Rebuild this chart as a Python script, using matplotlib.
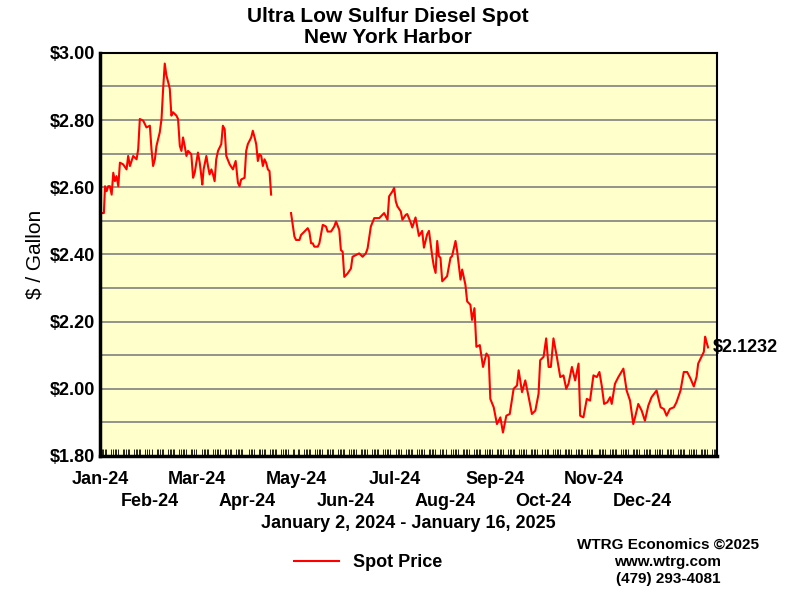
import numpy as np
import matplotlib
matplotlib.use('Agg')
import matplotlib.pyplot as plt

plt.rcParams['font.family'] = 'Liberation Sans'

# days since Jan 2, 2024 / spot price ($/gal)
days_a = [0, 1.4, 2.1, 3.1, 4.1, 5.1, 6.2, 7.2, 8.2, 9.2, 10.3, 11.3, 13.3, 15.4, 16.4, 17.5, 19.5,
          21.6, 22.6, 23.6, 25.7, 27.7, 29.8, 30.8, 31.8, 32.9, 33.9, 34.9, 35.9, 37.0, 38.0, 39.0,
          40.0, 41.1, 42.1, 43.1, 44.1, 46.2, 47.2, 48.3, 49.3, 50.3, 51.3, 52.4, 53.4, 55.4, 56.5,
          57.5, 58.5, 59.5, 60.6, 61.6, 62.2, 63.0, 64.7, 65.7, 66.7, 67.8, 68.8, 69.8, 70.8, 71.9,
          73.9, 74.9, 76.0, 77.0, 79.1, 81.1, 82.8, 84.2, 85.2, 86.2, 88.3, 89.3, 90.3, 92.4, 93.4,
          94.5, 95.5, 96.5, 97.5, 98.6, 99.6, 100.6, 101.6, 102.7, 103.7, 104.7]
price_a = [2.523, 2.523, 2.603, 2.588, 2.603, 2.603, 2.578, 2.643, 2.618, 2.633, 2.603, 2.673,
           2.668, 2.653, 2.693, 2.663, 2.693, 2.683, 2.713, 2.803, 2.798, 2.778, 2.783, 2.713,
           2.663, 2.683, 2.723, 2.743, 2.763, 2.803, 2.893, 2.968, 2.933, 2.913, 2.893, 2.813,
           2.823, 2.813, 2.803, 2.723, 2.708, 2.748, 2.723, 2.693, 2.708, 2.698, 2.628, 2.643,
           2.673, 2.703, 2.673, 2.633, 2.608, 2.653, 2.693, 2.663, 2.638, 2.653, 2.638, 2.618,
           2.683, 2.708, 2.728, 2.783, 2.773, 2.693, 2.668, 2.653, 2.678, 2.613, 2.603, 2.623,
           2.628, 2.708, 2.728, 2.748, 2.768, 2.748, 2.728, 2.678, 2.698, 2.693, 2.663, 2.683,
           2.673, 2.653, 2.648, 2.578]
days_b = [117.0, 119.1, 120.1, 122.2, 123.2, 125.3, 127.3, 128.3, 129.4, 130.4, 131.4, 133.5,
          134.5, 136.6, 138.6, 139.6, 141.7, 143.7, 144.8, 146.8, 147.8, 148.9, 149.9, 151.9,
          154.0, 155.0, 157.1, 159.1, 161.2, 163.2, 164.3, 166.3, 168.4, 171.5, 174.5, 176.6,
          177.6, 179.7, 180.7, 181.7, 182.7, 184.8, 185.8, 187.9,
          188.8, 190.9, 191.9, 193.9, 196.0, 198.0, 199.1, 201.1, 202.2, 204.2, 205.2, 206.3,
          207.3, 208.3, 209.3, 210.4, 212.4, 213.4, 215.5, 216.5, 218.6, 219.6, 221.7, 222.7,
          224.7, 225.8, 227.8, 228.8, 230.3, 231.5, 233.6, 235.6, 237.7, 239.1, 240.1, 242.2,
          244.2, 246.3, 247.9, 250.0, 252.1, 254.5, 256.6, 257.6, 259.7, 261.7, 263.8, 265.8,
          267.9, 269.9, 270.9, 273.0, 274.6, 276.1, 277.5, 279.1, 281.2, 283.3, 285.3, 287.0,
          288.4, 290.5, 292.5, 294.6, 295.6, 297.6, 299.7, 301.7, 303.8, 305.9, 307.5, 308.9,
          310.4, 312.4, 314.1, 315.1, 317.1, 319.2, 322.3, 324.3, 326.4, 328.4, 329.5, 331.5,
          333.6, 335.6, 337.7, 339.7, 342.8, 345.3, 347.3, 349.0, 351.0, 353.5, 355.1, 357.6,
          359.6, 361.7, 363.8, 365.8, 367.5, 368.5, 370.5, 372.0, 372.8, 373.6, 374.6]
price_b = [2.523, 2.453, 2.443, 2.443, 2.458, 2.468, 2.478, 2.468, 2.433, 2.433, 2.423, 2.423,
           2.433, 2.488, 2.483, 2.468, 2.468, 2.483, 2.498, 2.473, 2.413, 2.408, 2.333, 2.343,
           2.358, 2.393, 2.398, 2.403, 2.393, 2.403, 2.418, 2.483, 2.508, 2.508, 2.523, 2.503,
           2.573, 2.588, 2.598, 2.558, 2.543, 2.528, 2.503, 2.518,
           2.520, 2.495, 2.480, 2.510, 2.455, 2.470, 2.420, 2.460, 2.470, 2.395, 2.365, 2.345,
           2.440, 2.395, 2.390, 2.320, 2.330, 2.335, 2.390, 2.395, 2.440, 2.410, 2.325, 2.355,
           2.310, 2.260, 2.250, 2.205, 2.240, 2.125, 2.130, 2.065, 2.105, 2.095, 1.970, 1.945,
           1.895, 1.915, 1.870, 1.920, 1.925, 2.000, 2.010, 2.055, 1.990, 2.025, 1.975, 1.925,
           1.935, 1.985, 2.085, 2.095, 2.150, 2.065, 2.065, 2.150, 2.095, 2.035, 2.040, 2.000,
           2.015, 2.065, 2.025, 2.075, 1.920, 1.915, 1.970, 1.965, 2.040, 2.035, 2.050, 2.010,
           1.955, 1.960, 1.975, 1.955, 2.015, 2.035, 2.060, 1.995, 1.965, 1.895, 1.915, 1.955,
           1.935, 1.905, 1.950, 1.975, 1.995, 1.945, 1.940, 1.920, 1.940, 1.945, 1.960, 1.995,
           2.050, 2.050, 2.030, 2.007, 2.035, 2.075, 2.095, 2.110, 2.155, 2.140, 2.1232]

month_days = [-1, 30, 59, 90, 120, 151, 181, 212, 243, 273, 304, 334]
month_labels = ['Jan-24', 'Feb-24', 'Mar-24', 'Apr-24', 'May-24', 'Jun-24',
                'Jul-24', 'Aug-24', 'Sep-24', 'Oct-24', 'Nov-24', 'Dec-24']
y_ticks = [1.8, 2.0, 2.2, 2.4, 2.6, 2.8, 3.0]
last_label = '$2.1232'

fig = plt.figure(figsize=(8, 6), dpi=100)
ax = fig.add_axes([0.125, 0.24, 0.771, 0.672])
ax.set_facecolor('#FFFFCC')

ax.plot(days_a, price_a, color='#FF0000', lw=1.5)
ax.plot(days_b, price_b, color='#FF0000', lw=1.5, label='Spot Price')

ax.set_xlim(-1, 380)
ax.set_ylim(1.8, 3.0)
ax.set_yticks(y_ticks)
ax.set_yticklabels(['$%.2f' % v for v in y_ticks], fontsize=13, fontweight='bold')
ax.set_yticks(np.arange(1.8, 3.01, 0.1), minor=True)
ax.grid(True, which='both', axis='y', color='#808080', lw=1.2)
ax.set_axisbelow(True)

# weekday ticks along the bottom
wd = [d for d in range(0, 380) if (d + 1) % 7 not in (5, 6)]
ax.set_xticks(wd, minor=True)
ax.tick_params(axis='x', which='minor', direction='in', length=5, color='black')
ax.tick_params(axis='y', which='both', length=0)
ax.set_xticks(month_days)
ax.set_xticklabels(month_labels, fontsize=13, fontweight='bold')
ax.tick_params(axis='x', which='major', length=0, pad=11)
for i, lab in enumerate(ax.get_xticklabels()):
    if i % 2 == 1:
        lab.set_y(-0.053)

for s in ['left', 'bottom']:
    ax.spines[s].set_linewidth(2.5)
for s in ['top', 'right']:
    ax.spines[s].set_linewidth(1.5)

ax.text(days_b[-1] + 3, price_b[-1], last_label, fontsize=13, fontweight='bold', va='center')
ax.set_ylabel('$ / Gallon', fontsize=15)
fig.text(0.485, 0.955, 'Ultra Low Sulfur Diesel Spot\nNew York Harbor', ha='center', va='center',
         fontsize=15, fontweight='bold', linespacing=1.15)
fig.text(0.51, 0.128, 'January 2, 2024 - January 16, 2025', ha='center', va='center',
         fontsize=13, fontweight='bold')
fig.legend(loc='center', bbox_to_anchor=(0.46, 0.062), frameon=False,
           prop={'size': 13, 'weight': 'bold'}, handlelength=2.5)
fig.text(0.835, 0.063, 'WTRG Economics \u00a92025\nwww.wtrg.com\n(479) 293-4081', ha='center',
         va='center', fontsize=11, fontweight='bold', linespacing=1.3)

fig.savefig('out.png', dpi=100)
